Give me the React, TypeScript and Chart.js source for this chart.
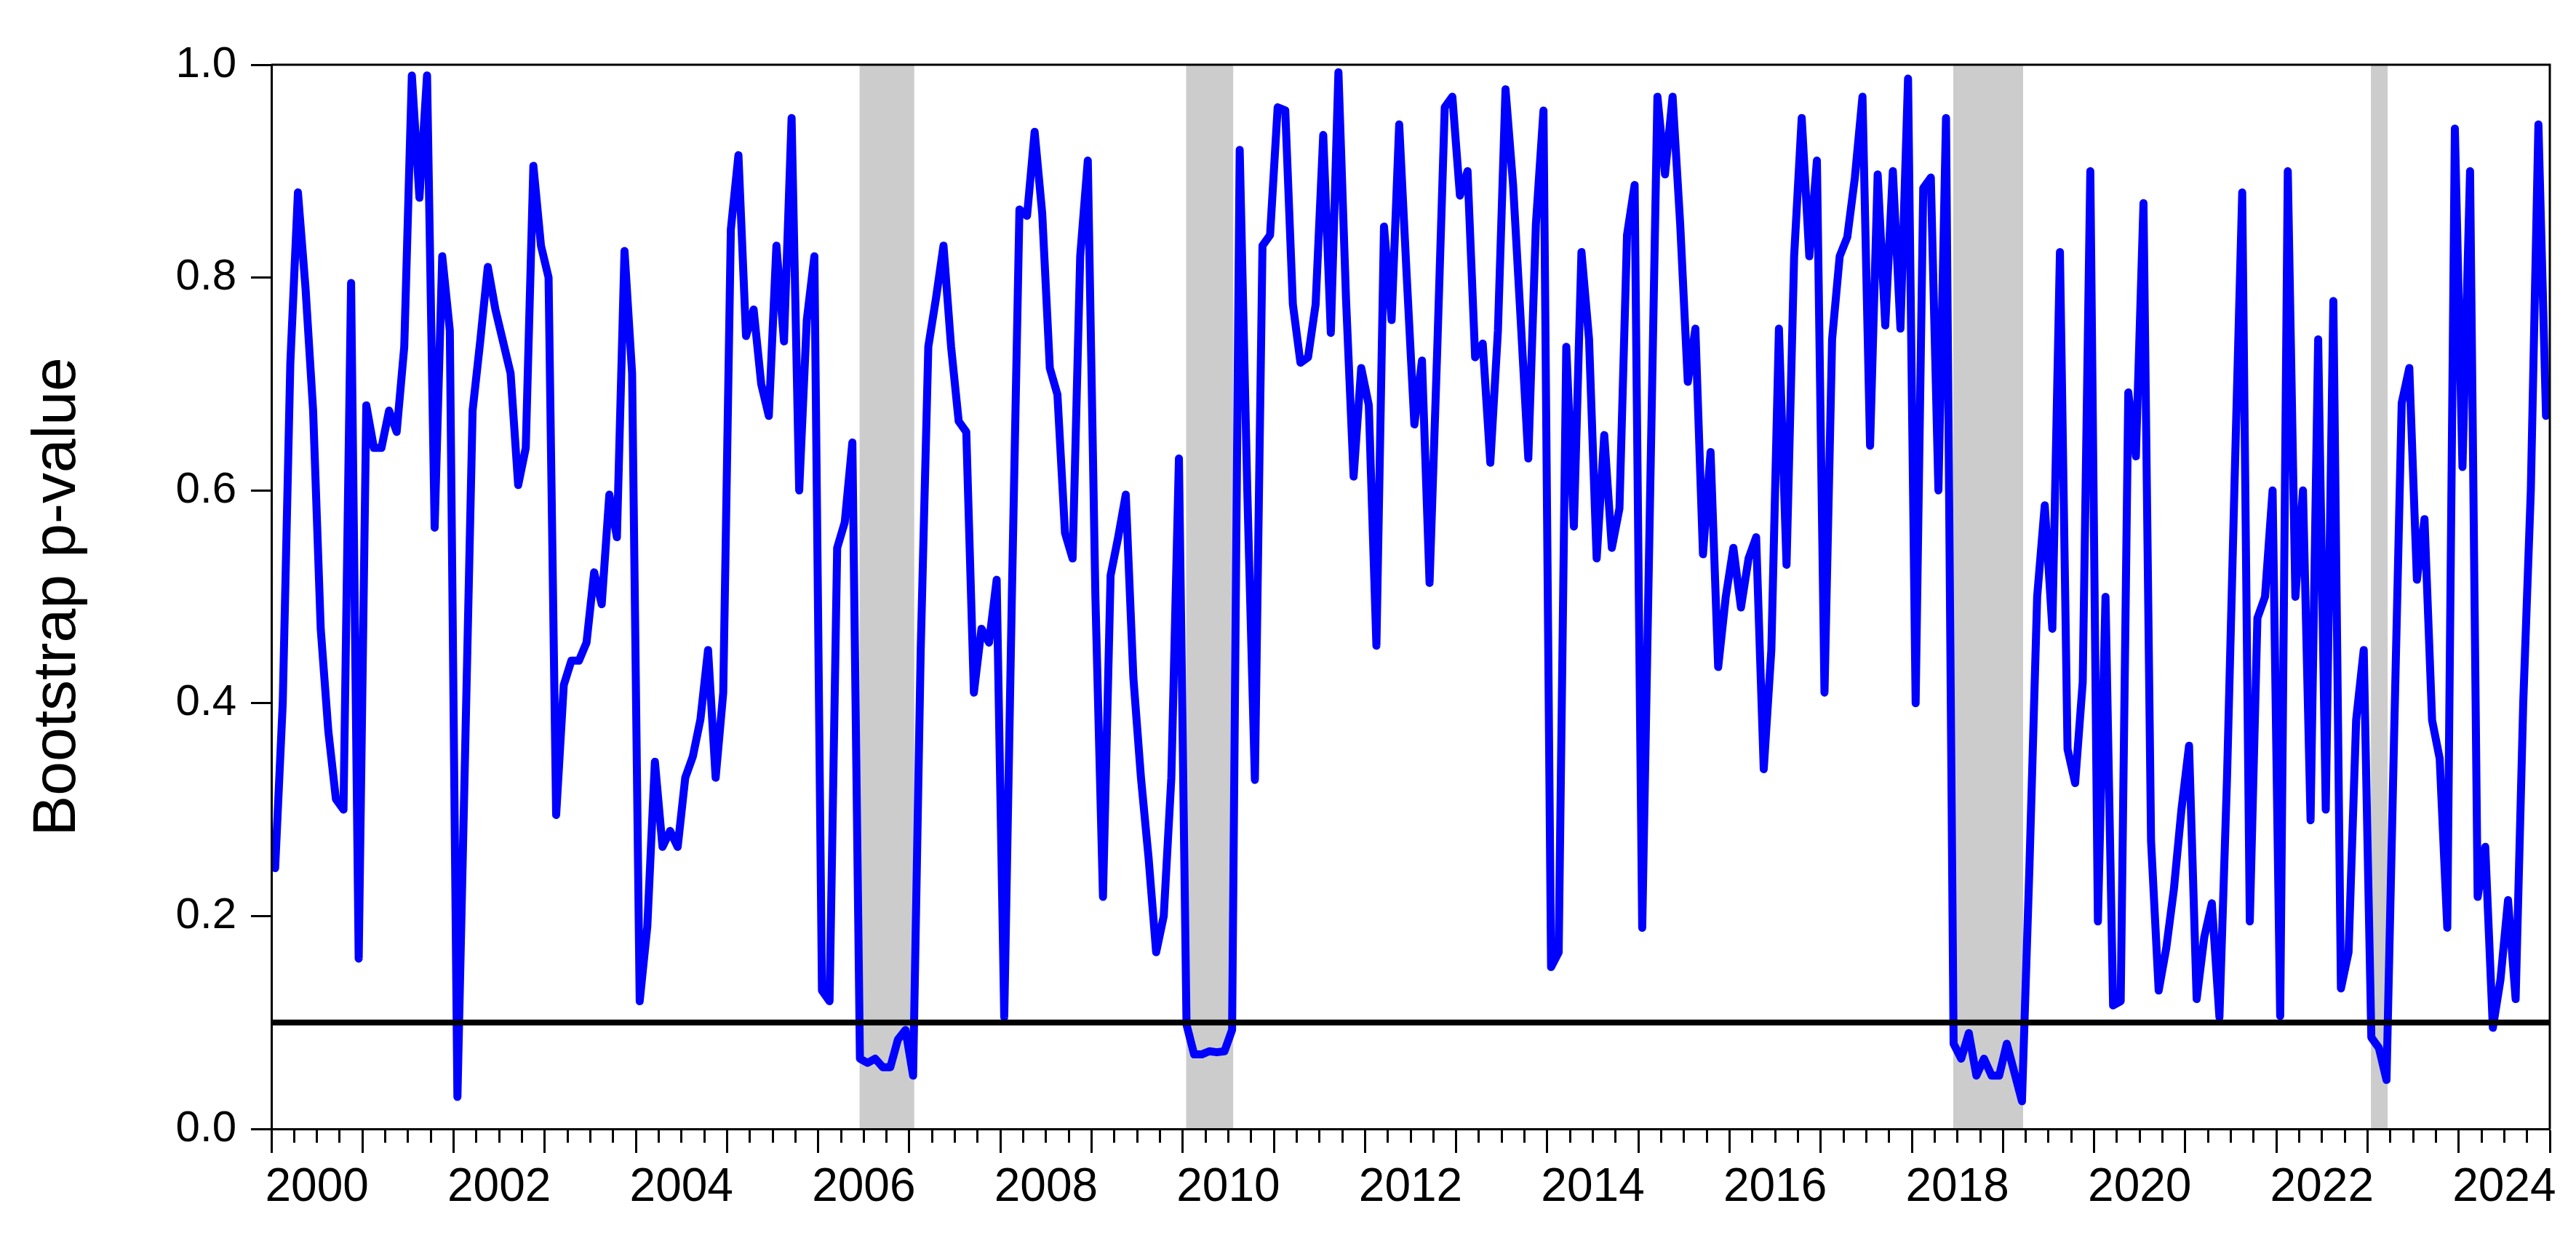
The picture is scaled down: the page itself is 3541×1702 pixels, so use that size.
import React, { useEffect, useRef } from "react";
import { Chart, registerables } from "chart.js";

Chart.register(...registerables);

// ---- data ----
const START_YEAR = 2000;
const MONTHS_TOTAL = 300; // Jan 2000 .. Dec 2024
const THRESHOLD = 0.1;
const Y_TITLE = "Bootstrap p-value";

// monthly bootstrap p-values, one row per year
const pValues = [
  0.245, 0.40, 0.72, 0.88, 0.79, 0.675, 0.47, 0.374, 0.31, 0.30, 0.795, 0.16, // 2000
  0.68, 0.64, 0.64, 0.675, 0.655, 0.735, 0.99, 0.875, 0.99, 0.565, 0.82, 0.75, // 2001
  0.03, 0.35, 0.675, 0.74, 0.81, 0.77, 0.74, 0.71, 0.605, 0.64, 0.905, 0.83, // 2002
  0.80, 0.295, 0.417, 0.44, 0.44, 0.457, 0.523, 0.493, 0.596, 0.556, 0.825, 0.71, // 2003
  0.12, 0.19, 0.345, 0.265, 0.28, 0.265, 0.33, 0.35, 0.385, 0.45, 0.33, 0.41, // 2004
  0.845, 0.915, 0.745, 0.77, 0.70, 0.67, 0.83, 0.74, 0.95, 0.60, 0.76, 0.82, // 2005
  0.13, 0.12, 0.546, 0.57, 0.645, 0.066, 0.062, 0.066, 0.058, 0.058, 0.084, 0.093, // 2006
  0.05, 0.45, 0.735, 0.78, 0.83, 0.735, 0.665, 0.655, 0.41, 0.47, 0.457, 0.516, // 2007
  0.105, 0.50, 0.864, 0.858, 0.937, 0.86, 0.715, 0.69, 0.56, 0.536, 0.82, 0.91, // 2008
  0.50, 0.218, 0.52, 0.556, 0.596, 0.424, 0.33, 0.255, 0.166, 0.20, 0.33, 0.63, // 2009
  0.098, 0.07, 0.07, 0.073, 0.072, 0.073, 0.093, 0.92, 0.60, 0.328, 0.83, 0.84, // 2010
  0.96, 0.957, 0.775, 0.72, 0.725, 0.775, 0.934, 0.748, 0.993, 0.78, 0.613, 0.715, // 2011
  0.68, 0.454, 0.848, 0.76, 0.944, 0.80, 0.662, 0.722, 0.513, 0.73, 0.96, 0.97, // 2012
  0.877, 0.90, 0.725, 0.738, 0.626, 0.75, 0.977, 0.887, 0.76, 0.63, 0.85, 0.957, // 2013
  0.152, 0.166, 0.735, 0.566, 0.824, 0.742, 0.536, 0.652, 0.546, 0.583, 0.84, 0.887, // 2014
  0.189, 0.58, 0.97, 0.897, 0.97, 0.85, 0.702, 0.752, 0.54, 0.636, 0.434, 0.50, // 2015
  0.546, 0.49, 0.536, 0.556, 0.338, 0.45, 0.752, 0.53, 0.82, 0.95, 0.82, 0.91, // 2016
  0.41, 0.742, 0.82, 0.838, 0.894, 0.97, 0.642, 0.897, 0.755, 0.90, 0.752, 0.987, // 2017
  0.40, 0.884, 0.894, 0.60, 0.95, 0.08, 0.066, 0.09, 0.05, 0.066, 0.05, 0.05, // 2018
  0.08, 0.053, 0.026, 0.25, 0.50, 0.586, 0.47, 0.824, 0.357, 0.325, 0.42, 0.90, // 2019
  0.195, 0.50, 0.116, 0.12, 0.692, 0.632, 0.87, 0.27, 0.13, 0.17, 0.225, 0.30, // 2020
  0.36, 0.122, 0.18, 0.212, 0.105, 0.33, 0.61, 0.88, 0.195, 0.48, 0.50, 0.60, // 2021
  0.106, 0.90, 0.50, 0.60, 0.29, 0.742, 0.30, 0.778, 0.132, 0.166, 0.384, 0.45, // 2022
  0.086, 0.076, 0.046, 0.37, 0.682, 0.715, 0.516, 0.573, 0.384, 0.348, 0.189, 0.94, // 2023
  0.622, 0.90, 0.218, 0.265, 0.095, 0.14, 0.215, 0.122, 0.40, 0.60, 0.944, 0.67, // 2024
];

// shaded periods (first and last observation index, months since Jan 2000)
const shadeStartObs = [77, 120, 221, 276];
const shadeEndObs = [84, 126, 230, 278];

// axis ticks
const yTickValues = [0, 0.2, 0.4, 0.6, 0.8, 1.0];
const xLabelYears = [2000, 2002, 2004, 2006, 2008, 2010, 2012, 2014, 2016, 2018, 2020, 2022, 2024];

const FONT = "'Liberation Sans', Arial, Helvetica, sans-serif";

const xTickValues: number[] = [];
for (let m = 0; m <= MONTHS_TOTAL; m += 3) xTickValues.push(m);
const xLabelAt = new Map<number, string>(
  xLabelYears.map((y) => [(y - START_YEAR) * 12 + 6, String(y)])
);

const framePlugin = {
  id: "frameAndShading",
  beforeDatasetsDraw(chart: any) {
    const { ctx, chartArea, scales } = chart;
    ctx.save();
    ctx.fillStyle = "#cccccc";
    shadeStartObs.forEach((s, k) => {
      const x1 = scales.x.getPixelForValue(s + 0.45);
      const x2 = scales.x.getPixelForValue(shadeEndObs[k] + 0.65);
      ctx.fillRect(x1, chartArea.top, x2 - x1, chartArea.bottom - chartArea.top);
    });
    ctx.restore();
  },
  afterDatasetsDraw(chart: any) {
    const { ctx, chartArea } = chart;
    ctx.save();
    ctx.strokeStyle = "#000";
    ctx.lineWidth = 3;
    ctx.beginPath();
    ctx.moveTo(chartArea.left, chartArea.top);
    ctx.lineTo(chartArea.right, chartArea.top);
    ctx.lineTo(chartArea.right, chartArea.bottom);
    ctx.stroke();
    ctx.restore();
  },
};

export default function App() {
  const ref = useRef<HTMLCanvasElement | null>(null);

  useEffect(() => {
    document.body.style.margin = "0";
    document.body.style.overflow = "hidden";
    const canvas = ref.current;
    if (!canvas) return;
    const chart = new Chart(canvas, {
      type: "line",
      data: {
        datasets: [
          {
            label: "threshold",
            data: [
              { x: 0, y: THRESHOLD },
              { x: MONTHS_TOTAL, y: THRESHOLD },
            ],
            borderColor: "#000000",
            borderWidth: 8,
            pointRadius: 0,
            order: 0,
          },
          {
            label: Y_TITLE,
            data: pValues.map((v, i) => ({ x: i + 0.5, y: v })),
            borderColor: "#0000ff",
            borderWidth: 11,
            pointRadius: 0,
            tension: 0,
            borderJoinStyle: "round",
            borderCapStyle: "round",
            order: 1,
          },
        ],
      },
      options: {
        animation: false,
        responsive: false,
        devicePixelRatio: 1,
        layout: { padding: { top: 89, right: 36, left: 0, bottom: 0 } },
        plugins: {
          legend: { display: false },
          tooltip: { enabled: false },
        },
        scales: {
          x: {
            type: "linear",
            min: 0,
            max: MONTHS_TOTAL,
            afterBuildTicks: (scale: any) => {
              scale.ticks = xTickValues.map((v) => ({ value: v }));
            },
            afterFit: (scale: any) => {
              scale.height = 150;
            },
            grid: {
              drawOnChartArea: false,
              drawTicks: true,
              tickLength: 33,
              tickWidth: 3,
              tickColor: "#000",
              tickBorderDash: (ctx: any) =>
                ctx.tick && ctx.tick.value % 12 === 0 ? [] : [17, 1000],
            },
            border: { display: true, color: "#000", width: 3, z: 1 },
            ticks: {
              autoSkip: false,
              maxRotation: 0,
              minRotation: 0,
              padding: 10,
              color: "#000",
              font: { family: FONT, size: 64 },
              callback: (value: any) => xLabelAt.get(Number(value)) ?? "",
            },
          },
          y: {
            type: "linear",
            min: 0,
            max: 1,
            afterBuildTicks: (scale: any) => {
              scale.ticks = yTickValues.map((v) => ({ value: v }));
            },
            afterFit: (scale: any) => {
              scale.width = 373;
            },
            grid: {
              drawOnChartArea: false,
              drawTicks: true,
              tickLength: 28,
              tickWidth: 3,
              tickColor: "#000",
            },
            border: { display: true, color: "#000", width: 3, z: 1 },
            ticks: {
              padding: 20,
              color: "#000",
              font: { family: FONT, size: 60 },
              callback: (value: any) => Number(value).toFixed(1),
            },
            title: {
              display: true,
              text: Y_TITLE,
              color: "#000",
              font: { family: FONT, size: 84 },
              padding: { top: 29, bottom: 0 },
            },
          },
        },
      },
      plugins: [framePlugin],
    } as any);
    return () => chart.destroy();
  }, []);

  return (
    <div style={{ position: "fixed", left: 0, top: 0, width: 3541, height: 1702, background: "#fff" }}>
      <canvas ref={ref} width={3541} height={1702} style={{ display: "block" }} />
    </div>
  );
}
